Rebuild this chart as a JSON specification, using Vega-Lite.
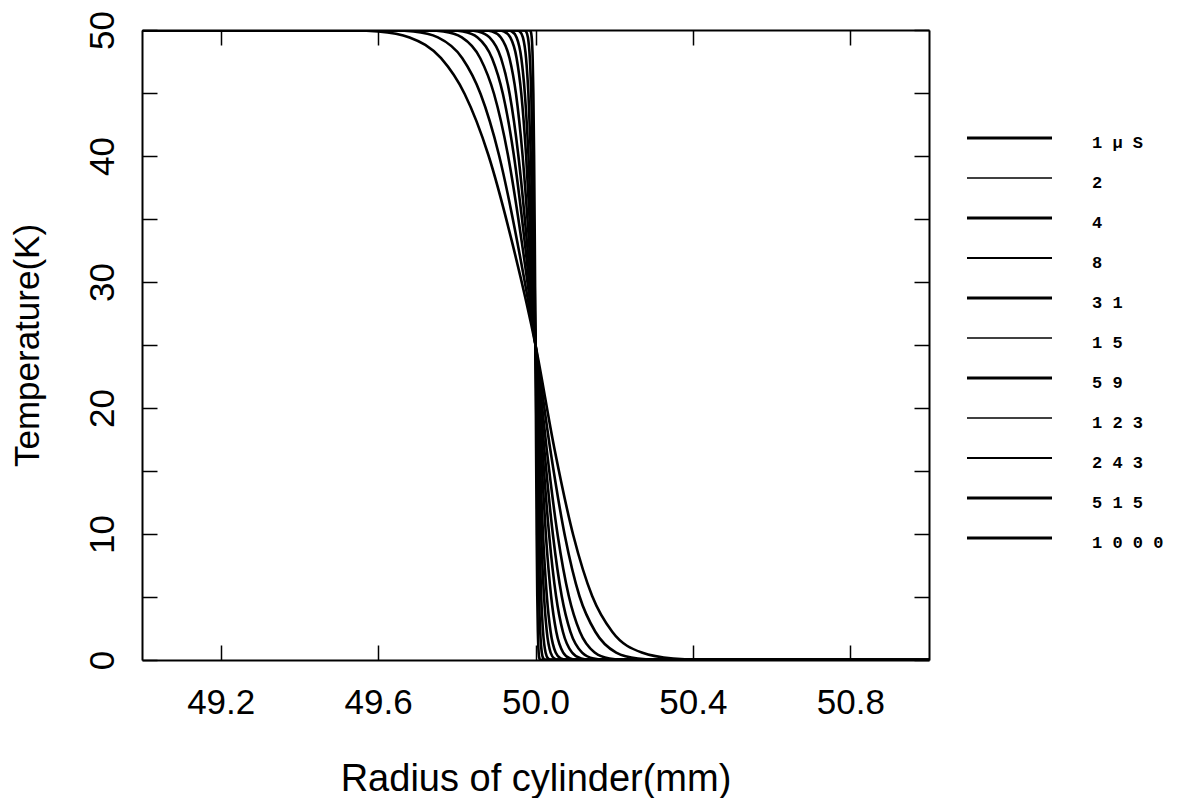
{
  "$schema": "https://vega.github.io/schema/vega-lite/v6.json",
  "background": "white",
  "padding": {"left": 10, "top": 10, "right": 0, "bottom": 0},
  "config": {"view": {"stroke": null}, "font": "Liberation Sans"},
  "datasets": {
    "curves": [
      {"time":1,"radius":49.0,"temp":50},{"time":1,"radius":49.9856,"temp":49.98},{"time":1,"radius":49.988,"temp":49.88},{"time":1,"radius":49.9904,"temp":49.41},{"time":1,"radius":49.9928,"temp":47.76},{"time":1,"radius":49.9946,"temp":44.92},{"time":1,"radius":49.9964,"temp":40.1},{"time":1,"radius":49.9982,"temp":33.22},{"time":1,"radius":50.0,"temp":25},{"time":1,"radius":50.0015,"temp":16.79},{"time":1,"radius":50.003,"temp":9.9},{"time":1,"radius":50.0045,"temp":5.08},{"time":1,"radius":50.006,"temp":2.24},{"time":1,"radius":50.008,"temp":0.59},{"time":1,"radius":50.01,"temp":0.12},{"time":1,"radius":50.012,"temp":0.02},{"time":1,"radius":51.0,"temp":0},
      {"time":2,"radius":49.0,"temp":50},{"time":2,"radius":49.9712,"temp":49.98},{"time":2,"radius":49.976,"temp":49.88},{"time":2,"radius":49.9808,"temp":49.41},{"time":2,"radius":49.9856,"temp":47.76},{"time":2,"radius":49.9892,"temp":44.92},{"time":2,"radius":49.9928,"temp":40.1},{"time":2,"radius":49.9964,"temp":33.22},{"time":2,"radius":50.0,"temp":25},{"time":2,"radius":50.003,"temp":16.79},{"time":2,"radius":50.006,"temp":9.9},{"time":2,"radius":50.009,"temp":5.08},{"time":2,"radius":50.012,"temp":2.24},{"time":2,"radius":50.016,"temp":0.59},{"time":2,"radius":50.02,"temp":0.12},{"time":2,"radius":50.024,"temp":0.02},{"time":2,"radius":51.0,"temp":0},
      {"time":4,"radius":49.0,"temp":50},{"time":4,"radius":49.952,"temp":49.98},{"time":4,"radius":49.96,"temp":49.88},{"time":4,"radius":49.968,"temp":49.41},{"time":4,"radius":49.976,"temp":47.76},{"time":4,"radius":49.982,"temp":44.92},{"time":4,"radius":49.988,"temp":40.1},{"time":4,"radius":49.994,"temp":33.22},{"time":4,"radius":50.0,"temp":25},{"time":4,"radius":50.0048,"temp":16.79},{"time":4,"radius":50.0096,"temp":9.9},{"time":4,"radius":50.0144,"temp":5.08},{"time":4,"radius":50.0192,"temp":2.24},{"time":4,"radius":50.0256,"temp":0.59},{"time":4,"radius":50.032,"temp":0.12},{"time":4,"radius":50.0384,"temp":0.02},{"time":4,"radius":51.0,"temp":0},
      {"time":8,"radius":49.0,"temp":50},{"time":8,"radius":49.928,"temp":49.98},{"time":8,"radius":49.94,"temp":49.88},{"time":8,"radius":49.952,"temp":49.41},{"time":8,"radius":49.964,"temp":47.76},{"time":8,"radius":49.973,"temp":44.92},{"time":8,"radius":49.982,"temp":40.1},{"time":8,"radius":49.991,"temp":33.22},{"time":8,"radius":50.0,"temp":25},{"time":8,"radius":50.0072,"temp":16.79},{"time":8,"radius":50.0144,"temp":9.9},{"time":8,"radius":50.0216,"temp":5.08},{"time":8,"radius":50.0288,"temp":2.24},{"time":8,"radius":50.0384,"temp":0.59},{"time":8,"radius":50.048,"temp":0.12},{"time":8,"radius":50.0576,"temp":0.02},{"time":8,"radius":51.0,"temp":0},
      {"time":15,"radius":49.0,"temp":50},{"time":15,"radius":49.904,"temp":49.98},{"time":15,"radius":49.92,"temp":49.88},{"time":15,"radius":49.936,"temp":49.41},{"time":15,"radius":49.952,"temp":47.76},{"time":15,"radius":49.964,"temp":44.92},{"time":15,"radius":49.976,"temp":40.1},{"time":15,"radius":49.988,"temp":33.22},{"time":15,"radius":50.0,"temp":25},{"time":15,"radius":50.0096,"temp":16.79},{"time":15,"radius":50.0192,"temp":9.9},{"time":15,"radius":50.0288,"temp":5.08},{"time":15,"radius":50.0384,"temp":2.24},{"time":15,"radius":50.0512,"temp":0.59},{"time":15,"radius":50.064,"temp":0.12},{"time":15,"radius":50.0768,"temp":0.02},{"time":15,"radius":51.0,"temp":0},
      {"time":31,"radius":49.0,"temp":50},{"time":31,"radius":49.868,"temp":49.98},{"time":31,"radius":49.89,"temp":49.88},{"time":31,"radius":49.912,"temp":49.41},{"time":31,"radius":49.934,"temp":47.76},{"time":31,"radius":49.9505,"temp":44.92},{"time":31,"radius":49.967,"temp":40.1},{"time":31,"radius":49.9835,"temp":33.22},{"time":31,"radius":50.0,"temp":25},{"time":31,"radius":50.0132,"temp":16.79},{"time":31,"radius":50.0264,"temp":9.9},{"time":31,"radius":50.0396,"temp":5.08},{"time":31,"radius":50.0528,"temp":2.24},{"time":31,"radius":50.0704,"temp":0.59},{"time":31,"radius":50.088,"temp":0.12},{"time":31,"radius":50.1056,"temp":0.02},{"time":31,"radius":51.0,"temp":0},
      {"time":59,"radius":49.0,"temp":50},{"time":59,"radius":49.8248,"temp":49.98},{"time":59,"radius":49.854,"temp":49.88},{"time":59,"radius":49.8832,"temp":49.41},{"time":59,"radius":49.9124,"temp":47.76},{"time":59,"radius":49.9343,"temp":44.92},{"time":59,"radius":49.9562,"temp":40.1},{"time":59,"radius":49.9781,"temp":33.22},{"time":59,"radius":50.0,"temp":25},{"time":59,"radius":50.0174,"temp":16.79},{"time":59,"radius":50.0348,"temp":9.9},{"time":59,"radius":50.0522,"temp":5.08},{"time":59,"radius":50.0696,"temp":2.24},{"time":59,"radius":50.0928,"temp":0.59},{"time":59,"radius":50.116,"temp":0.12},{"time":59,"radius":50.1392,"temp":0.02},{"time":59,"radius":51.0,"temp":0},
      {"time":123,"radius":49.0,"temp":50},{"time":123,"radius":49.7792,"temp":49.98},{"time":123,"radius":49.816,"temp":49.88},{"time":123,"radius":49.8528,"temp":49.41},{"time":123,"radius":49.8896,"temp":47.76},{"time":123,"radius":49.9172,"temp":44.92},{"time":123,"radius":49.9448,"temp":40.1},{"time":123,"radius":49.9724,"temp":33.22},{"time":123,"radius":50.0,"temp":25},{"time":123,"radius":50.0222,"temp":16.79},{"time":123,"radius":50.0444,"temp":9.9},{"time":123,"radius":50.0666,"temp":5.08},{"time":123,"radius":50.0888,"temp":2.24},{"time":123,"radius":50.1184,"temp":0.59},{"time":123,"radius":50.148,"temp":0.12},{"time":123,"radius":50.1776,"temp":0.02},{"time":123,"radius":51.0,"temp":0},
      {"time":243,"radius":49.0,"temp":50},{"time":243,"radius":49.7192,"temp":49.98},{"time":243,"radius":49.766,"temp":49.88},{"time":243,"radius":49.8128,"temp":49.41},{"time":243,"radius":49.8596,"temp":47.76},{"time":243,"radius":49.8947,"temp":44.92},{"time":243,"radius":49.9298,"temp":40.1},{"time":243,"radius":49.9649,"temp":33.22},{"time":243,"radius":50.0,"temp":25},{"time":243,"radius":50.0282,"temp":16.79},{"time":243,"radius":50.0564,"temp":9.9},{"time":243,"radius":50.0846,"temp":5.08},{"time":243,"radius":50.1128,"temp":2.24},{"time":243,"radius":50.1504,"temp":0.59},{"time":243,"radius":50.188,"temp":0.12},{"time":243,"radius":50.2256,"temp":0.02},{"time":243,"radius":51.0,"temp":0},
      {"time":515,"radius":49.0,"temp":50},{"time":515,"radius":49.628,"temp":49.98},{"time":515,"radius":49.69,"temp":49.88},{"time":515,"radius":49.752,"temp":49.41},{"time":515,"radius":49.814,"temp":47.76},{"time":515,"radius":49.8605,"temp":44.92},{"time":515,"radius":49.907,"temp":40.1},{"time":515,"radius":49.9535,"temp":33.22},{"time":515,"radius":50.0,"temp":25},{"time":515,"radius":50.0372,"temp":16.79},{"time":515,"radius":50.0744,"temp":9.9},{"time":515,"radius":50.1116,"temp":5.08},{"time":515,"radius":50.152,"temp":2.24},{"time":515,"radius":50.205,"temp":0.59},{"time":515,"radius":50.26,"temp":0.12},{"time":515,"radius":50.315,"temp":0.02},{"time":515,"radius":51.0,"temp":0},
      {"time":1000,"radius":49.0,"temp":50},{"time":1000,"radius":49.52,"temp":49.98},{"time":1000,"radius":49.6,"temp":49.88},{"time":1000,"radius":49.68,"temp":49.41},{"time":1000,"radius":49.76,"temp":47.76},{"time":1000,"radius":49.82,"temp":44.92},{"time":1000,"radius":49.88,"temp":40.1},{"time":1000,"radius":49.94,"temp":33.22},{"time":1000,"radius":50.0,"temp":25},{"time":1000,"radius":50.048,"temp":16.79},{"time":1000,"radius":50.096,"temp":9.9},{"time":1000,"radius":50.144,"temp":5.08},{"time":1000,"radius":50.195,"temp":2.24},{"time":1000,"radius":50.27,"temp":0.59},{"time":1000,"radius":50.35,"temp":0.12},{"time":1000,"radius":50.43,"temp":0.02},{"time":1000,"radius":51.0,"temp":0}
    ],
    "legend": [
      {"label":"1 μ S"},{"label":"2"},{"label":"4"},{"label":"8"},{"label":"3 1"},{"label":"1 5"},{"label":"5 9"},{"label":"1 2 3"},{"label":"2 4 3"},{"label":"5 1 5"},{"label":"1 0 0 0"}
    ]
  },
  "hconcat": [
    {
      "width": 787,
      "height": 630,
      "data": {"name": "curves"},
      "layer": [
        {
          "mark": {"type": "line", "interpolate": "monotone", "color": "black", "strokeWidth": 2.6, "clip": true},
          "encoding": {
            "x": {"field": "radius", "type": "quantitative",
              "scale": {"domain": [49, 51], "nice": false, "zero": false},
              "axis": {"orient": "bottom", "values": [49.2, 49.6, 50.0, 50.4, 50.8], "format": ".1f", "grid": false,
                "tickSize": -15, "tickWidth": 1.5, "tickColor": "black", "domainColor": "black", "domainWidth": 2,
                "labelFontSize": 35, "labelColor": "black", "labelPadding": 40, "labelFlush": false,
                "title": "Radius of cylinder(mm)", "titleFontSize": 38, "titleFontWeight": "normal", "titleColor": "black", "titlePadding": 40}},
            "y": {"field": "temp", "type": "quantitative",
              "scale": {"domain": [0, 50], "nice": false},
              "axis": {"orient": "left", "values": [0, 5, 10, 15, 20, 25, 30, 35, 40, 45, 50], "grid": false,
                "labelExpr": "datum.value % 10 === 0 ? datum.label : ''",
                "tickSize": -15, "tickWidth": 1.5, "tickColor": "black", "domainColor": "black", "domainWidth": 2,
                "labelFontSize": 35, "labelColor": "black", "labelAngle": -90, "labelAlign": "center", "labelBaseline": "middle",
                "labelPadding": 55, "labelFlush": false, "labelOverlap": false,
                "title": "Temperature(K)", "titleFontSize": 35, "titleFontWeight": "normal", "titleColor": "black", "titlePadding": 40}},
            "detail": {"field": "time", "type": "nominal"}
          }
        },
        {
          "mark": {"type": "line", "opacity": 0},
          "encoding": {
            "x": {"field": "radius", "type": "quantitative",
              "axis": {"orient": "top", "values": [49.2, 49.6, 50.0, 50.4, 50.8], "labels": false, "grid": false, "title": null,
                "tickSize": -15, "tickWidth": 1.5, "tickColor": "black", "domainColor": "black", "domainWidth": 2}},
            "y": {"field": "temp", "type": "quantitative",
              "axis": {"orient": "right", "values": [0, 5, 10, 15, 20, 25, 30, 35, 40, 45, 50], "labels": false, "grid": false, "title": null,
                "tickSize": -15, "tickWidth": 1.5, "tickColor": "black", "domainColor": "black", "domainWidth": 2}},
            "detail": {"field": "time", "type": "nominal"}
          }
        }
      ],
      "resolve": {"axis": {"x": "independent", "y": "independent"}}
    },
    {
      "width": 220,
      "height": 630,
      "data": {"name": "legend"},
      "layer": [
        {
          "mark": {"type": "rule", "color": "black"},
          "encoding": {
            "y": {"field": "label", "type": "nominal", "sort": null, "scale": {"type": "point", "range": [108, 508], "padding": 0}, "axis": null},
            "x": {"datum": 0, "type": "quantitative", "scale": {"domain": [0, 220], "nice": false, "zero": false}, "axis": null},
            "x2": {"datum": 85},
            "strokeWidth": {"field": "label", "type": "nominal", "legend": null,
              "scale": {"type": "ordinal", "domain": ["1 μ S","2","4","8","3 1","1 5","5 9","1 2 3","2 4 3","5 1 5","1 0 0 0"], "range": [3, 1.5, 3, 2, 3, 1.5, 3, 1.5, 2, 3, 3]}}
          }
        },
        {
          "mark": {"type": "text", "align": "left", "baseline": "middle", "dy": 5, "font": "Liberation Mono", "fontSize": 17, "fontWeight": "bold", "color": "black"},
          "encoding": {
            "y": {"field": "label", "type": "nominal", "sort": null, "axis": null},
            "x": {"datum": 125, "type": "quantitative"},
            "text": {"field": "label"}
          }
        }
      ]
    }
  ],
  "spacing": 35
}
